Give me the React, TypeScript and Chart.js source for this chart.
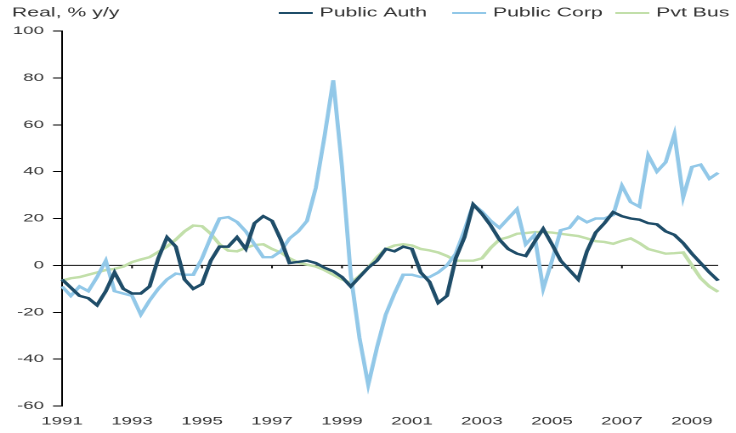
import React, { useEffect, useRef } from 'react';
import { Chart, registerables } from 'chart.js';

Chart.register(...registerables);

const years = ['1991','1992','1993','1994','1995','1996','1997','1998','1999','2000','2001','2002','2003','2004','2005','2006','2007','2008','2009'];
const quarters = ['Q1','Q2','Q3','Q4'];
const tickYears = ['1991','1993','1995','1997','1999','2001','2003','2005','2007','2009'];
const seriesNames = ['Public Auth', 'Public Corp', 'Pvt Bus'];
const titleText = 'Real, % y/y';

const publicAuth = [
  -6, -9.5, -13, -14, -17, -11, -3, -10, -12, -12,
  -9, 3, 12, 8, -6, -10, -8, 2, 8, 8,
  12, 7, 18, 21, 19, 11, 1, 1.5, 2, 1,
  -1, -2.5, -5, -9, -5, -1, 2, 7, 6, 8,
  7, -3, -7, -16, -13, 3, 12, 26, 22, 17,
  11, 7, 5, 4, 10, 15.6, 9, 2, -2, -6,
  6, 14, 18, 22.7, 21, 20, 19.5, 18, 17.5, 14.5,
  13, 9.5, 5, 1, -3, -6.5,
];
const publicCorp = [
  -9, -13, -9, -11, -5, 2, -11, -12, -13, -21,
  -15, -10, -6, -3.5, -4, -4, 3, 12, 20, 20.6,
  18.5, 14.5, 9, 3.5, 3.5, 6, 11.5, 14.5, 19, 33,
  55, 79, 42, -4, -31, -51, -35, -21, -12, -4,
  -4, -5, -5, -3, 0, 5, 15, 26, 23, 19,
  16, 20, 24, 9, 13, -10, 2, 15, 16, 20.6,
  18.4, 20, 20, 21.5, 34, 27, 25, 47, 40, 44,
  56, 29, 42, 43, 37, 39.5,
];
const pvtBus = [
  -6.5, -5.5, -5, -4, -3, -2, -1.5, -0.5, 1.4, 2.5,
  3.5, 5.7, 8, 11, 14.5, 17, 16.7, 13.5, 9, 6.3,
  6, 7.5, 8.7, 9, 7, 5.5, 3, 1.2, 0.3, -0.5,
  -2, -4, -6, -7.5, -4.5, -1, 3.5, 7, 8.5, 9,
  8.5, 7, 6.4, 5.5, 4, 2, 2, 2, 3, 7.5,
  11, 12, 13.5, 13.8, 14.2, 14.2, 14, 13.5, 13, 12.5,
  11.5, 10.3, 10, 9.2, 10.5, 11.5, 9.5, 7, 6, 5,
  5.2, 5.5, 0, -5.5, -9, -11.3,
];

const colors = ['#1f4d69', '#92c8e8', '#c2dfaa'];
const FONT = '"Liberation Sans", Arial, sans-serif';
const TEXT = '#333';

const categories = years.flatMap((y) => quarters.map((q) => `${y} ${q}`));

const zeroLinePlugin = {
  id: 'zeroLine',
  beforeDatasetsDraw(chart: any) {
    const { ctx, chartArea, scales } = chart;
    const y0 = scales.y.getPixelForValue(0);
    ctx.save();
    ctx.strokeStyle = '#111';
    ctx.lineWidth = 1;
    ctx.beginPath();
    ctx.moveTo(chartArea.left, y0);
    ctx.lineTo(chartArea.right, y0);
    categories.forEach((c, i) => {
      const [yr, q] = c.split(' ');
      if (q === 'Q1' && tickYears.includes(yr) && i > 0) {
        const x = scales.x.getPixelForValue(i);
        ctx.moveTo(x, y0);
        ctx.lineTo(x, y0 + 3);
      }
    });
    ctx.stroke();
    ctx.restore();
  },
};

const headerPlugin = {
  id: 'header',
  afterDraw(chart: any) {
    const { ctx } = chart;
    ctx.save();
    ctx.font = `12.5px ${FONT}`;
    ctx.fillStyle = TEXT;
    ctx.textBaseline = 'middle';
    ctx.textAlign = 'left';
    const yc = 13;
    ctx.fillText(titleText, 7, yc);
    const starts = [164, 266, 362];
    chart.data.datasets.forEach((ds: any, i: number) => {
      const x = starts[i];
      ctx.strokeStyle = ds.borderColor;
      ctx.lineWidth = 2;
      ctx.beginPath();
      ctx.moveTo(x, yc);
      ctx.lineTo(x + 20, yc);
      ctx.stroke();
      ctx.fillStyle = TEXT;
      ctx.fillText(ds.label, x + 24, yc);
    });
    ctx.restore();
  },
};

export default function App() {
  const ref = useRef<HTMLCanvasElement>(null);
  useEffect(() => {
    if (!ref.current) return;
    const chart = new Chart(ref.current, {
      type: 'line',
      data: {
        labels: categories,
        datasets: [publicAuth, publicCorp, pvtBus].map((d, i) => ({
          label: seriesNames[i],
          data: d,
          borderColor: colors[i],
          backgroundColor: colors[i],
          borderWidth: 2.4,
          pointRadius: 0,
          tension: 0,
          fill: false,
        })),
      },
      options: {
        animation: false,
        responsive: false,
        devicePixelRatio: 2,
        layout: { padding: { left: 0, right: 10.5, top: 31, bottom: 0 } },
        plugins: { legend: { display: false }, title: { display: false }, tooltip: { enabled: false } },
        scales: {
          x: {
            type: 'category',
            grid: { display: false, drawTicks: false },
            border: { display: false },
            ticks: {
              autoSkip: false,
              maxRotation: 0,
              minRotation: 0,
              padding: 9,
              color: TEXT,
              font: { size: 11, family: FONT },
              callback: (_v: any, i: number) => {
                const [yr, q] = categories[i].split(' ');
                return q === 'Q1' && tickYears.includes(yr) ? yr : '';
              },
            },
            afterFit: (s: any) => { s.height = 27; },
          },
          y: {
            min: -60,
            max: 100,
            ticks: { stepSize: 20, padding: 5.3, color: TEXT, font: { size: 11, family: FONT } },
            grid: { drawOnChartArea: false, drawTicks: true, tickLength: 5.3, color: '#000', lineWidth: 1 },
            border: { display: true, color: '#000', width: 1 },
            afterFit: (s: any) => { s.width = 36.5; },
          },
        },
      },
      plugins: [zeroLinePlugin, headerPlugin],
    });
    return () => chart.destroy();
  }, []);
  return (
    <div style={{ position: 'fixed', left: 0, top: 0, width: 736, height: 433, background: '#fff' }}>
      <canvas ref={ref} width={433} height={433} style={{ width: '736px', height: '433px', display: 'block' }} />
    </div>
  );
}
